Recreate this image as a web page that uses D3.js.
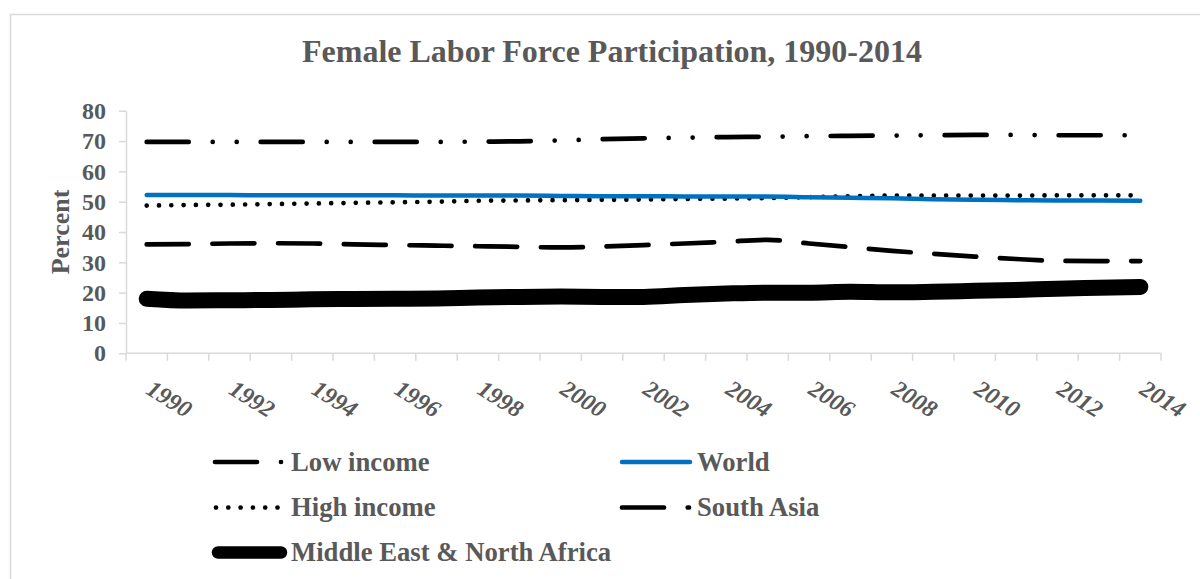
<!DOCTYPE html>
<html><head><meta charset="utf-8">
<script src="https://cdn.jsdelivr.net/npm/d3@7"></script>
<style>
html,body{margin:0;padding:0;background:#fff;}
svg{display:block;font-family:"Liberation Serif","Times New Roman",serif;}
</style></head>
<body><svg id="chart" width="1200" height="579"></svg>
<script>
const years = d3.range(1990, 2015);
const yearLabels = ["1990","1992","1994","1996","1998","2000","2002","2004","2006","2008","2010","2012","2014"];
const yTicks = [0,10,20,30,40,50,60,70,80];

const lowIncome = [69.7,69.7,69.7,69.7,69.7,69.7,69.7,69.7,69.8,69.9,70.2,70.6,70.9,71.1,71.3,71.4,71.6,71.7,71.8,71.9,72.0,72.0,71.9,71.9,71.9];
const world = [52.2,52.2,52.2,52.1,52.1,52.1,52.1,52.0,52.0,52.0,51.9,51.8,51.8,51.7,51.7,51.7,51.5,51.3,51.1,50.8,50.6,50.5,50.4,50.4,50.3];
const highIncome = [48.7,48.9,49.0,49.2,49.4,49.6,49.8,50.0,50.3,50.4,50.5,50.6,50.7,50.9,51.0,51.2,51.5,51.8,52.0,52.0,52.0,52.0,52.1,52.1,52.1];
const southAsia = [35.9,36.0,36.2,36.3,36.2,35.9,35.7,35.5,35.3,35.1,34.9,35.2,35.7,36.2,36.8,37.4,36.2,35.0,33.8,32.8,31.9,31.1,30.5,30.4,30.4];
const mena = [18.0,17.4,17.5,17.6,17.8,17.9,18.0,18.1,18.4,18.6,18.7,18.6,18.6,19.2,19.7,20.0,20.0,20.3,20.1,20.3,20.6,20.9,21.3,21.6,21.9];

const seriesNames = ["Low income","World","High income","South Asia","Middle East & North Africa"];
const seriesValues = [lowIncome, world, highIncome, southAsia, mena];

const styles = {
  "Low income": {color:"#000", width:4.7, dash:"42,24,0,24,0,24"},
  "World": {color:"#0070C0", width:4.5, dash:null},
  "High income": {color:"#000", width:4.7, dash:"0,12.3"},
  "South Asia": {color:"#000", width:4.7, dash:"42,23.7"},
  "Middle East & North Africa": {color:"#000", width:16, dash:null}
};

const svg = d3.select("#chart");
const textColor = "#595959";

// outer border
svg.append("rect").attr("x",10.5).attr("y",14.5).attr("width",1300).attr("height",700)
  .attr("fill","none").attr("stroke","#d9d9d9").attr("stroke-width",1.5);

const x = d3.scaleBand().domain(years).range([126, 1161]);
const y = d3.scaleLinear().domain([0,80]).range([353.3, 110.7]);

// title
svg.append("text").attr("x",612).attr("y",62).attr("text-anchor","middle")
  .attr("font-size",32).attr("font-weight","bold").attr("fill",textColor)
  .text("Female Labor Force Participation, 1990-2014");

// y axis
const yAxis = svg.append("g").attr("transform","translate(126,0)")
  .call(d3.axisLeft(y).tickValues(yTicks).tickSize(7).tickSizeOuter(0).tickPadding(13));
yAxis.select(".domain").attr("stroke","#d9d9d9").attr("stroke-width",1.5);
yAxis.selectAll(".tick line").attr("stroke","#d9d9d9").attr("stroke-width",1.5);
yAxis.selectAll(".tick text").attr("font-size",24).attr("font-weight","bold")
  .attr("fill",textColor).attr("font-family","Liberation Serif, Times New Roman, serif");

svg.append("text").attr("transform","translate(69,232) rotate(-90)")
  .attr("text-anchor","middle").attr("font-size",26).attr("font-weight","bold")
  .attr("fill",textColor).text("Percent");

// x axis
const xg = svg.append("g");
xg.append("line").attr("x1",x.range()[0]).attr("x2",x.range()[1])
  .attr("y1",y(0)).attr("y2",y(0)).attr("stroke","#d9d9d9").attr("stroke-width",1.5);
const bounds = years.map(d=>x(d)).concat([x(years[years.length-1]) + x.bandwidth()]);
xg.selectAll("line.tk").data(bounds).join("line").attr("class","tk")
  .attr("x1",d=>d).attr("x2",d=>d).attr("y1",y(0)).attr("y2",y(0)+7.5)
  .attr("stroke","#d9d9d9").attr("stroke-width",1.5);
xg.selectAll("text").data(yearLabels).join("text")
  .attr("transform",d=>`translate(${x(+d)+x.bandwidth()/2-2},${393}) rotate(32)`)
  .attr("font-size",24).attr("font-weight","bold").attr("font-style","italic")
  .attr("fill",textColor).text(d=>d);

// lines
const line = d3.line().x((d,i)=>x(years[i])+x.bandwidth()/2).y(d=>y(d)).curve(d3.curveMonotoneX);
const order = [4,3,2,1,0];
order.forEach(i=>{
  const s = styles[seriesNames[i]];
  svg.append("path").datum(seriesValues[i]).attr("d",line)
    .attr("fill","none").attr("stroke",s.color).attr("stroke-width",s.width)
    .attr("stroke-linecap","round").attr("stroke-linejoin","round")
    .attr("stroke-dasharray",s.dash);
});

// legend
const legendPos = [
  {x1:215,x2:282,tx:291,y:462},
  {x1:622,x2:690,tx:697,y:462},
  {x1:216,x2:278,tx:291,y:507.5},
  {x1:622,x2:689,tx:697,y:507.5},
  {x1:218,x2:281,tx:291,y:552.5}
];
const legendWidth = [4.7,4.5,4.7,4.7,12.5];
seriesNames.forEach((n,i)=>{
  const s = styles[n], p = legendPos[i];
  svg.append("line").attr("x1",p.x1).attr("x2",p.x2).attr("y1",p.y).attr("y2",p.y)
    .attr("stroke",s.color).attr("stroke-width",legendWidth[i])
    .attr("stroke-linecap","round").attr("stroke-dasharray",s.dash);
  svg.append("text").attr("x",p.tx).attr("y",p.y+8.5).attr("font-size",26.7)
    .attr("font-weight","bold").attr("fill",textColor).text(n);
});
</script></body></html>
